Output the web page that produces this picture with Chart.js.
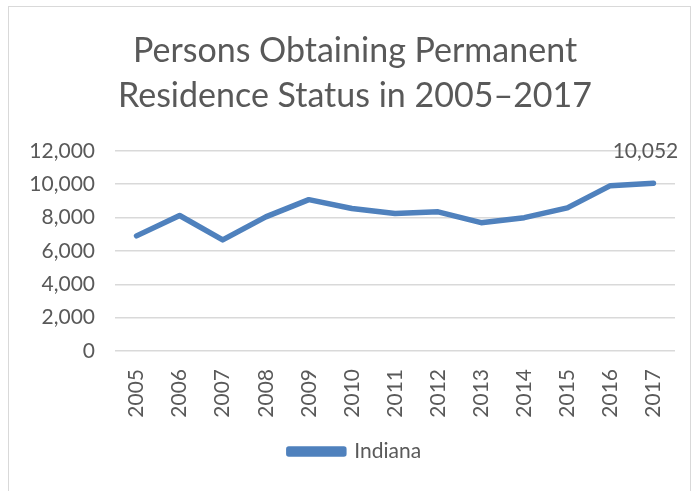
<!DOCTYPE html>
<html>
<head>
<meta charset="utf-8">
<script src="https://cdn.jsdelivr.net/npm/chart.js@4"></script>
<style>
  html, body { margin: 0; padding: 0; background: #fff; overflow: hidden; }
  #frame { position: absolute; left: 8px; top: 6px; width: 681px; height: 500px; border: 1px solid #d9d9d9; }
  #wrap { position: absolute; left: 0; top: 0; width: 698px; height: 491px; }
</style>
</head>
<body>
<div id="frame"></div>
<div id="wrap"><canvas id="chart" width="698" height="491"></canvas></div>
<script>
// --- chart data ---
const years = ['2005', '2006', '2007', '2008', '2009', '2010', '2011', '2012', '2013', '2014', '2015', '2016', '2017'];
const indiana = [6900, 8120, 6660, 8040, 9070, 8540, 8240, 8340, 7690, 7990, 8580, 9910, 10052];
const titleLines = ['Persons Obtaining Permanent', 'Residence Status in 2005\u20132017'];

const FONT = 'Lato, Carlito, Calibri, sans-serif';
const GREY = '#595959';
const BLUE = '#4f81bd';

// label only the last point, like the original
const lastLabel = {
    id: 'lastLabel',
    afterDatasetsDraw(chart) {
        const meta = chart.getDatasetMeta(0);
        const i = indiana.length - 1;
        const pt = meta.data[i];
        const ctx = chart.ctx;
        ctx.save();
        ctx.font = '21px ' + FONT;
        ctx.fillStyle = GREY;
        ctx.textAlign = 'center';
        ctx.textBaseline = 'middle';
        ctx.fillText(indiana[i].toLocaleString('en-US'), pt.x - 8, pt.y - 32);
        ctx.restore();
    }
};

new Chart(document.getElementById('chart'), {
    type: 'line',
    data: {
        labels: years,
        datasets: [{
            label: 'Indiana',
            data: indiana,
            borderColor: BLUE,
            backgroundColor: BLUE,
            borderWidth: 5.5,
            pointRadius: 0,
            tension: 0,
            borderCapStyle: 'round',
            borderJoinStyle: 'round'
        }]
    },
    options: {
        responsive: false,
        animation: false,
        layout: { padding: { left: 35, right: 23, top: 29, bottom: 19 } },
        plugins: {
            title: {
                display: true,
                text: titleLines,
                color: GREY,
                font: { family: FONT, size: 34, weight: 'normal', lineHeight: 1.32 },
                padding: { top: 0, bottom: 32 }
            },
            legend: {
                position: 'bottom',
                labels: {
                    color: GREY,
                    font: { family: FONT, size: 21 },
                    boxWidth: 55,
                    boxHeight: 5,
                    padding: 10
                }
            },
            tooltip: { enabled: false }
        },
        scales: {
            x: {
                offset: true,
                grid: { display: false },
                border: { display: false },
                ticks: {
                    color: GREY,
                    font: { family: FONT, size: 21 },
                    minRotation: 90,
                    maxRotation: 90,
                    padding: 10
                },
                afterFit(axis) { axis.height = 80; }
            },
            y: {
                min: 0,
                max: 12000,
                grid: { color: '#d9d9d9', lineWidth: 1.5, drawTicks: false },
                border: { display: false },
                ticks: {
                    stepSize: 2000,
                    color: GREY,
                    font: { family: FONT, size: 21 },
                    padding: 20,
                    callback: v => v.toLocaleString('en-US')
                },
                afterFit(axis) {
                    axis.width = 80;
                    // labels are a bit wider than the axis box; don't clip them
                    axis._computeLabelArea = () => undefined;
                }
            }
        }
    },
    plugins: [lastLabel]
});
</script>
</body>
</html>
